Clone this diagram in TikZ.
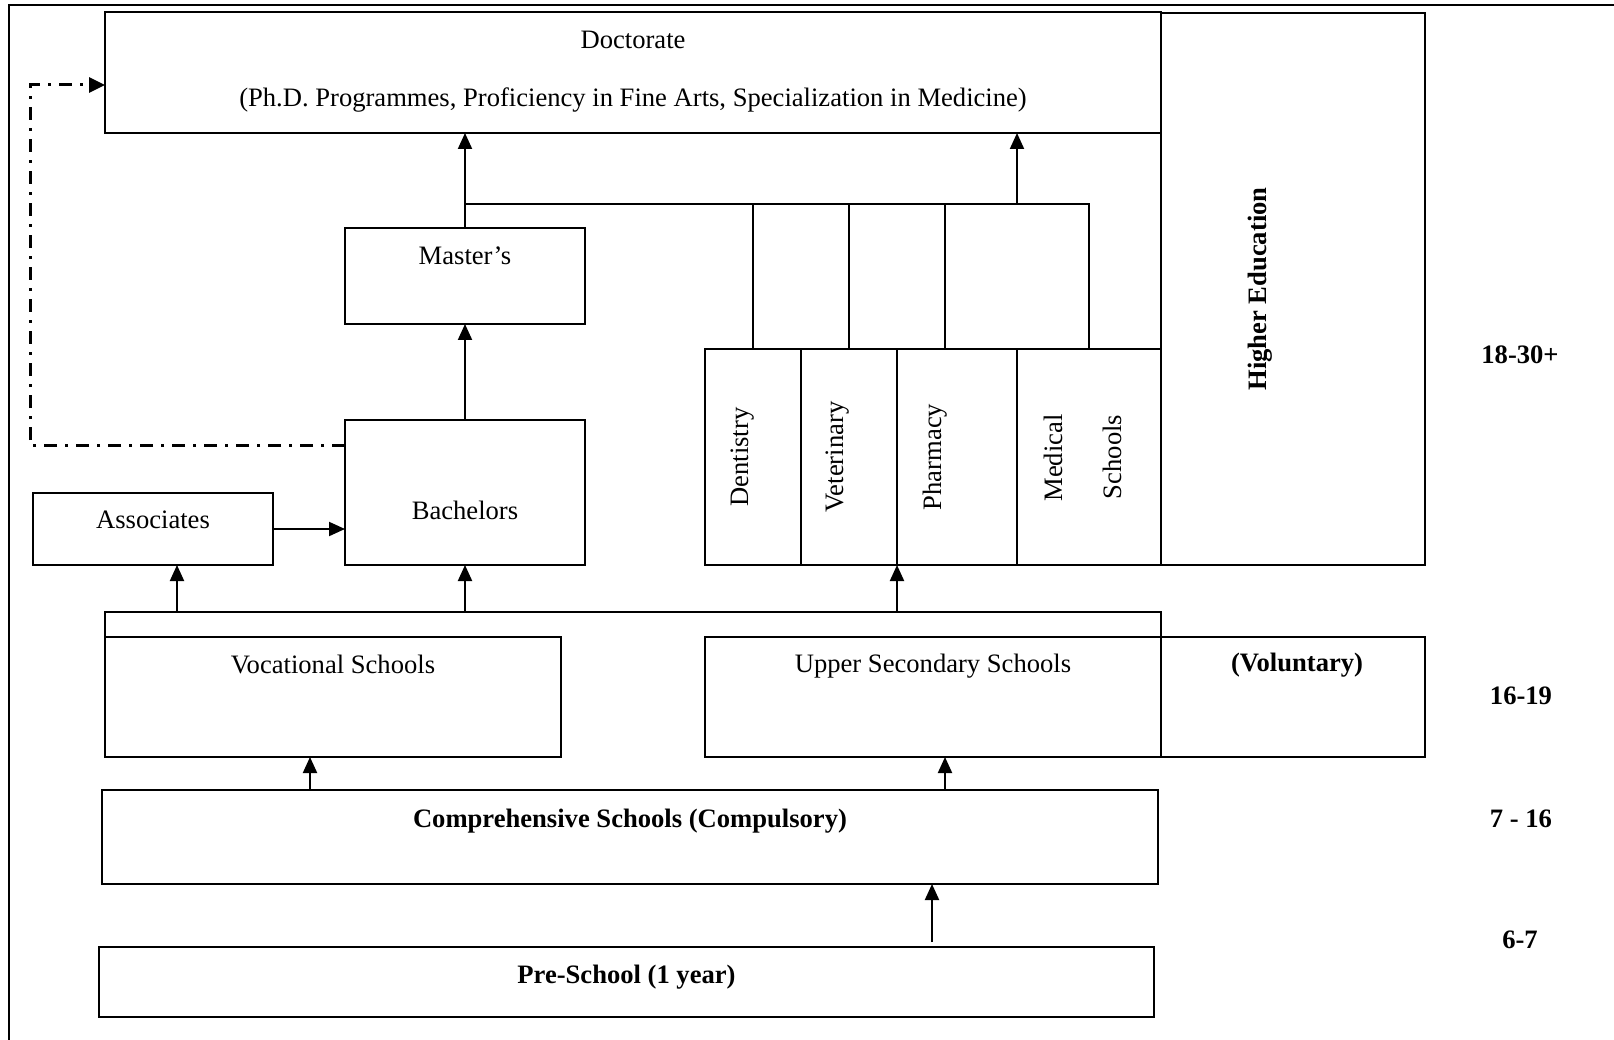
\documentclass[tikz,border=0pt]{standalone}
\usepackage{fontspec}
\setmainfont{Liberation Serif}
\usetikzlibrary{arrows.meta}
\begin{document}
\begin{tikzpicture}[x=1pt,y=-1pt,
  box/.style={draw, line width=2pt, inner sep=0pt, outer sep=0pt},
  lbl/.style={inner sep=0pt, font=\fontsize{26.6pt}{32pt}\selectfont},
  blbl/.style={inner sep=0pt, font=\fontsize{26.6pt}{32pt}\selectfont\bfseries},
  vlbl/.style={lbl, rotate=90},
  link/.style={line width=2pt},
  arr/.style={link, -{Triangle[length=16pt,width=14pt]}},
  dashdot/.style={line width=3pt, dash pattern=on 13pt off 8pt on 3pt off 8pt,
                  -{Triangle[length=16pt,width=15pt]}}
]
\useasboundingbox (0,0) rectangle (1614,1040);

% page frame (top and left rules)
\draw[line width=2.4pt] (9,1040) -- (9,5) -- (1614,5);

% ---- higher education ----
\node[box, minimum width=264pt, minimum height=552pt] (hied) at (1293,289) {};
\node[blbl, rotate=90] (hied-t) at (1260,289) {Higher Education};

\node[box, minimum width=1056pt, minimum height=120.5pt] (doc) at (633,72.75) {};
\node[lbl] (doc-t1) at (633,40) {Doctorate};
\node[lbl] (doc-t2) at (633,100) {(Ph.D. Programmes, Proficiency in Fine Arts, Specialization in Medicine)};

\node[box, minimum width=240pt, minimum height=95.5pt] (mast) at (465,276.25) {};
\node[lbl] (mast-t) at (465,256) {Master’s};

\node[box, minimum width=240pt, minimum height=145pt] (bach) at (465,492.5) {};
\node[lbl] (bach-t) at (465,510) {Bachelors};

\node[box, minimum width=240pt, minimum height=72pt] (assoc) at (153,529) {};
\node[lbl] (assoc-t) at (153,520) {Associates};

% professional schools
\node[box, minimum width=96pt,  minimum height=216pt] (dent)  at (753,457) {};
\node[box, minimum width=96pt,  minimum height=216pt] (vet)   at (849,457) {};
\node[box, minimum width=120pt, minimum height=216pt] (pharm) at (957,457) {};
\node[box, minimum width=144pt, minimum height=216pt] (med)   at (1089,457) {};
\node[vlbl] (dent-t)  at (743,457)  {Dentistry};
\node[vlbl] (vet-t)   at (838,457)  {Veterinary};
\node[vlbl] (pharm-t) at (935,457)  {Pharmacy};
\node[vlbl] (med-t1)  at (1053,458) {Medical};
\node[vlbl] (med-t2)  at (1112,457) {Schools};

% ---- secondary level ----
\node[box, minimum width=456pt, minimum height=120pt] (voc)  at (333,697) {};
\node[lbl] (voc-t) at (333,664) {Vocational Schools};
\node[box, minimum width=456pt, minimum height=120pt] (usec) at (933,697) {};
\node[lbl] (usec-t) at (933,666) {Upper Secondary Schools};
\node[box, minimum width=264pt, minimum height=120pt] (vol)  at (1293,697) {};
\node[blbl] (vol-t) at (1297,665) {(Voluntary)};

% ---- basic level ----
\node[box, minimum width=1056pt, minimum height=94pt] (comp) at (630,837) {};
\node[blbl] (comp-t) at (630,821) {Comprehensive Schools (Compulsory)};
\node[box, minimum width=1055pt, minimum height=70pt] (pre) at (626.5,982) {};
\node[blbl] (pre-t) at (626.5,977) {Pre-School (1 year)};

% ---- age bands ----
\node[blbl] (age1) at (1520,355) {18-30+};
\node[blbl] (age2) at (1521,696) {16-19};
\node[blbl] (age3) at (1521,819) {7 - 16};
\node[blbl] (age4) at (1520,940) {6-7};

% ---- connectors ----
\draw[arr] (bach.north) -- (mast.south);
\draw[arr] (mast.north) -- (doc.south -| mast.north);

\coordinate (hubR) at (1089,204);
\coordinate (phTop) at (945,349);
\draw[link] (mast.north |- hubR) -- (hubR) -- (med.north);
\draw[link] (dent.north) -- (dent.north |- hubR);
\draw[link] (vet.north) -- (vet.north |- hubR);
\draw[link] (phTop) -- (phTop |- hubR);
\draw[arr] (med.north west |- hubR) -- (med.north west |- doc.south);

\draw[arr] (assoc.east) -- (assoc.east -| bach.west);

\coordinate (dd1) at (30,445);
\coordinate (dd2) at (30,85);
\draw[dashdot] (dd1 -| bach.west) -- (dd1) -- (dd2) -- (dd2 -| doc.west);

% bracket over the secondary schools
\coordinate (brL) at (105,612);
\coordinate (brR) at (1161,612);
\draw[link] (voc.north west) -- (brL) -- (brR) -- (usec.south east);
\coordinate (a1) at (177,612);
\draw[arr] (a1) -- (a1 |- assoc.south);
\draw[arr] (bach.south |- brL) -- (bach.south);
\draw[arr] (pharm.south west |- brL) -- (pharm.south west);

\coordinate (c1) at (310,0);
\coordinate (c2) at (945,0);
\draw[arr] (comp.north -| c1) -- (voc.south -| c1);
\draw[arr] (comp.north -| c2) -- (usec.south -| c2);

\coordinate (p1) at (932,942);
\draw[arr] (p1) -- (p1 |- comp.south);
\end{tikzpicture}
\end{document}
